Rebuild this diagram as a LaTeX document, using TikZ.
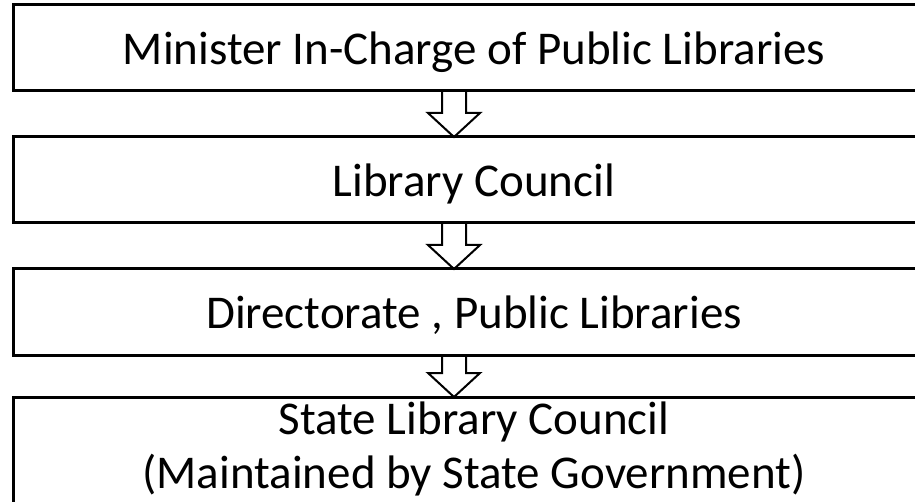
\documentclass[tikz,border=0pt]{standalone}
\usepackage{fontspec}
\setmainfont{Carlito}
\usetikzlibrary{positioning}
\begin{document}
\begin{tikzpicture}[box/.style={draw,rectangle,line width=3pt,outer sep=0pt,minimum width=922pt,minimum height=86pt,inner sep=5pt,font=\fontsize{47}{54}\selectfont,text height=33pt,text depth=0pt,align=center},
        hollow/.style={draw,line width=2pt,line join=miter},node distance={46pt}]
                \useasboundingbox (0,0) rectangle (915pt,-502pt);
                \node[box](minister) at (474pt,-48pt){Minister In-Charge of Public Libraries};
                \node[box](council)[below=of minister]{Library Council};
                \node[box](directorate)[below=of council]{Directorate , Public Libraries};
                \node[box,text height=,text depth=](state)[below=42pt of directorate]{State Library Council\\(Maintained by State Government)\rule[-40pt]{0pt}{40pt}};
                \draw[hollow]([xshift=-20pt]council.north) -- ++(-26pt,24pt) -- ++(14pt,0) |- ([xshift=-32pt]minister.south) -- ++(24pt,0) |- ([xshift=6pt,yshift=24pt]council.north) -- cycle;
                \draw[hollow]([xshift=-20pt]directorate.north) -- ++(-26pt,24pt) -- ++(14pt,0) |- ([xshift=-32pt]council.south) -- ++(24pt,0) |- ([xshift=6pt,yshift=24pt]directorate.north) -- cycle;
                \draw[hollow]([xshift=-20pt]state.north) -- ++(-26pt,24pt) -- ++(14pt,0) |- ([xshift=-32pt]directorate.south) -- ++(24pt,0) |- ([xshift=6pt,yshift=24pt]state.north) -- cycle;
            \end{tikzpicture}
\end{document}
